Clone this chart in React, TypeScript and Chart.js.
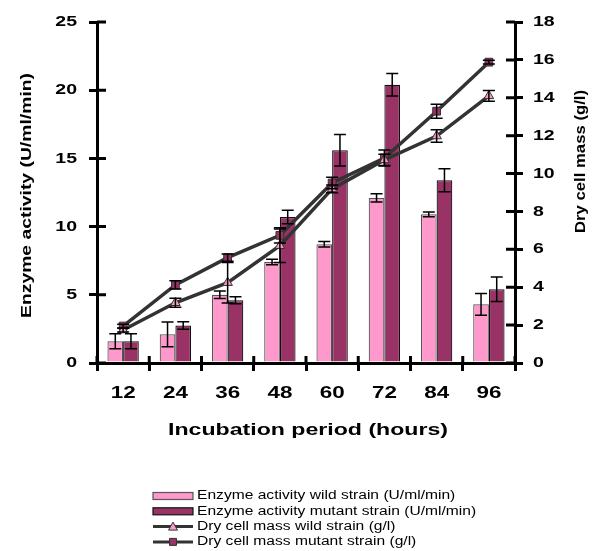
import React, { useEffect, useRef } from "react";
import { Chart, registerables } from "chart.js";
Chart.register(...registerables);

const categories = ["12", "24", "36", "48", "60", "72", "84", "96"];
const enzymeWild = [1.6, 2.1, 5.0, 7.4, 8.7, 12.1, 10.9, 4.3];
const enzymeWildErr = [0.55, 0.9, 0.28, 0.2, 0.2, 0.3, 0.17, 0.8];
const enzymeMutant = [1.6, 2.75, 4.6, 10.7, 15.6, 20.4, 13.4, 5.4];
const enzymeMutantErr = [0.55, 0.27, 0.25, 0.5, 1.15, 0.83, 0.85, 0.9];
const dcmWild = [1.74, 3.18, 4.24, 6.19, 9.19, 10.72, 11.98, 14.1];
const dcmWildErr = [0.1, 0.24, 1.07, 0.88, 0.2, 0.3, 0.33, 0.28];
const dcmMutant = [1.95, 4.12, 5.56, 6.74, 9.5, 10.82, 13.29, 15.88];
const dcmMutantErr = [0.1, 0.22, 0.19, 0.4, 0.3, 0.42, 0.37, 0.1];

const leftTicks = [0, 5, 10, 15, 20, 25];
const rightTicks = [0, 2, 4, 6, 8, 10, 12, 14, 16, 18];

const xTitle = "Incubation period (hours)";
const leftTitle = "Enzyme activity (U/ml/min)";
const rightTitle = "Dry cell mass (g/l)";
const seriesLabels = [
  "Enzyme activity wild strain (U/ml/min)",
  "Enzyme activity mutant strain (U/ml/min)",
  "Dry cell mass wild strain (g/l)",
  "Dry cell mass mutant strain (g/l)",
];

const FONT = '"Liberation Sans", Arial, sans-serif';
const PINK = "#FF99CC";
const PLUM = "#993366";
const LINE = "#333333";

function drawScaledText(ctx: CanvasRenderingContext2D, text: string, x: number, y: number, sx: number, sy: number, align: CanvasTextAlign, rot = 0) {
  ctx.save();
  ctx.translate(x, y);
  if (rot) ctx.rotate(rot);
  ctx.scale(sx, sy);
  ctx.textAlign = align;
  ctx.textBaseline = "middle";
  ctx.fillText(text, 0, 0);
  ctx.restore();
}

function drawFitText(ctx: CanvasRenderingContext2D, text: string, cx: number, cy: number, len: number, sThick: number, rot = 0) {
  const w = ctx.measureText(text).width;
  drawScaledText(ctx, text, cx, cy, len / w, sThick, "center", rot);
}

function App() {
  const ref = useRef<HTMLCanvasElement>(null);
  useEffect(() => {
    document.body.style.margin = "0";
    const canvas = ref.current!;
    const errs = [enzymeWildErr, enzymeMutantErr, dcmWildErr, dcmMutantErr];

    const decor = {
      id: "decor",
      afterDatasetsDraw(chart: any) {
        const ctx: CanvasRenderingContext2D = chart.ctx;
        ctx.save();
        ctx.strokeStyle = "#000";
        ctx.lineWidth = 1.5;
        chart.data.datasets.forEach((ds: any, i: number) => {
          const meta = chart.getDatasetMeta(i);
          const sc = chart.scales[ds.yAxisID];
          meta.data.forEach((el: any, j: number) => {
            const v = ds.data[j];
            const e = errs[i][j];
            const x = el.x;
            const y1 = sc.getPixelForValue(v + e);
            const y2 = sc.getPixelForValue(v - e);
            const c = 6;
            ctx.beginPath();
            ctx.moveTo(x, y1);
            ctx.lineTo(x, y2);
            ctx.moveTo(x - c, y1);
            ctx.lineTo(x + c, y1);
            ctx.moveTo(x - c, y2);
            ctx.lineTo(x + c, y2);
            ctx.stroke();
          });
        });
        ctx.restore();
      },
      afterDraw(chart: any) {
        const ctx: CanvasRenderingContext2D = chart.ctx;
        const { x, y, y1 } = chart.scales;
        const area = chart.chartArea;
        ctx.save();
        ctx.strokeStyle = "#000";
        ctx.lineWidth = 3;
        ctx.beginPath();
        y.ticks.forEach((t: any) => {
          const py = y.getPixelForValue(t.value);
          ctx.moveTo(area.left, py);
          ctx.lineTo(area.left + 9, py);
        });
        y1.ticks.forEach((t: any) => {
          const py = y1.getPixelForValue(t.value);
          ctx.moveTo(area.right - 9, py);
          ctx.lineTo(area.right, py);
        });
        const n = categories.length;
        const cw = (x.right - x.left) / n;
        for (let i = 0; i <= n; i++) {
          const px = x.left + i * cw;
          ctx.moveTo(px, area.bottom);
          ctx.lineTo(px, area.bottom - 7);
        }
        ctx.stroke();

        ctx.fillStyle = "#000";
        ctx.font = `bold 15px ${FONT}`;
        y.ticks.forEach((t: any) => {
          drawScaledText(ctx, String(t.value), 77, y.getPixelForValue(t.value), 1.3, 1, "right");
        });
        y1.ticks.forEach((t: any) => {
          drawScaledText(ctx, String(t.value), 533, y1.getPixelForValue(t.value), 1.3, 1, "left");
        });
        ctx.font = `bold 16px ${FONT}`;
        categories.forEach((c, i) => {
          drawScaledText(ctx, c, x.getPixelForValue(i), 394, 1.4, 1, "center");
        });

        ctx.font = `bold 17px ${FONT}`;
        drawFitText(ctx, xTitle, 308, 430, 280, 1);
        ctx.font = `bold 16px ${FONT}`;
        drawFitText(ctx, leftTitle, 26.5, 195.5, 245, 0.95, -Math.PI / 2);
        drawFitText(ctx, rightTitle, 581, 161.5, 143, 0.92, -Math.PI / 2);

        const lx0 = 153, lx1 = 193, tx = 197;
        const rows = [496, 511.3, 526.6, 541.9];
        ctx.font = `12px ${FONT}`;
        chart.data.datasets.forEach((ds: any, i: number) => {
          const cy = rows[i];
          if (ds.type === "bar") {
            ctx.fillStyle = ds.backgroundColor;
            ctx.fillRect(lx0, cy - 3.5, lx1 - lx0, 7);
            ctx.strokeStyle = ds.borderColor;
            ctx.lineWidth = 1.2;
            ctx.strokeRect(lx0, cy - 3.5, lx1 - lx0, 7);
          } else {
            ctx.strokeStyle = ds.borderColor;
            ctx.lineWidth = 3;
            ctx.beginPath();
            ctx.moveTo(lx0, cy);
            ctx.lineTo(lx1, cy);
            ctx.stroke();
            ctx.fillStyle = ds.pointBackgroundColor;
            ctx.strokeStyle = LINE;
            ctx.lineWidth = 1;
            const mx = (lx0 + lx1) / 2;
            ctx.beginPath();
            if (ds.pointStyle === "triangle") {
              ctx.moveTo(mx, cy - 4.5);
              ctx.lineTo(mx + 4.5, cy + 3.5);
              ctx.lineTo(mx - 4.5, cy + 3.5);
              ctx.closePath();
            } else {
              ctx.rect(mx - 3.5, cy - 3.5, 7, 7);
            }
            ctx.fill();
            ctx.stroke();
          }
          ctx.fillStyle = "#000";
          drawScaledText(ctx, ds.label, tx, cy, 1.3, 1, "left");
        });
        ctx.restore();
      },
    };

    const axisGrid = {
      display: true,
      drawOnChartArea: false,
      drawTicks: true,
      tickLength: 8,
      lineWidth: 3,
      color: "#000",
    };

    const chart = new Chart(canvas, {
      type: "bar",
      data: {
        labels: categories,
        datasets: [
          {
            type: "bar",
            label: seriesLabels[0],
            data: enzymeWild,
            backgroundColor: PINK,
            borderColor: "#555555",
            borderWidth: 1.2,
            yAxisID: "y",
            order: 2,
            categoryPercentage: 0.6,
            barPercentage: 1,
          },
          {
            type: "bar",
            label: seriesLabels[1],
            data: enzymeMutant,
            backgroundColor: PLUM,
            borderColor: "#111111",
            borderWidth: 1.2,
            yAxisID: "y",
            order: 2,
            categoryPercentage: 0.6,
            barPercentage: 1,
          },
          {
            type: "line",
            label: seriesLabels[2],
            data: dcmWild,
            borderColor: LINE,
            borderWidth: 3.5,
            pointStyle: "triangle",
            pointRadius: 5.5,
            pointBackgroundColor: PINK,
            pointBorderColor: LINE,
            pointBorderWidth: 1,
            yAxisID: "y1",
            order: 0,
            tension: 0,
          },
          {
            type: "line",
            label: seriesLabels[3],
            data: dcmMutant,
            borderColor: LINE,
            borderWidth: 3.5,
            pointStyle: "rect",
            pointRadius: 5.5,
            pointBackgroundColor: PLUM,
            pointBorderColor: LINE,
            pointBorderWidth: 1,
            yAxisID: "y1",
            order: 0,
            tension: 0,
          },
        ] as any,
      },
      options: {
        responsive: false,
        animation: false,
        layout: { padding: { left: 89, right: 72, top: 22, bottom: 180 } },
        plugins: { legend: { display: false }, tooltip: { enabled: false } },
        scales: {
          x: {
            offset: true,
            grid: { ...axisGrid, offset: true },
            border: { display: true, width: 3, color: "#000" },
            ticks: { display: false },
            afterFit: (s: any) => { s.height = 8; },
          },
          y: {
            position: "left",
            min: 0,
            max: 25,
            afterBuildTicks: (s: any) => { s.ticks = leftTicks.map((v) => ({ value: v })); },
            grid: axisGrid,
            border: { display: true, width: 3, color: "#000" },
            ticks: { display: false },
            afterFit: (s: any) => { s.width = 8; },
          },
          y1: {
            position: "right",
            min: 0,
            max: 18,
            afterBuildTicks: (s: any) => { s.ticks = rightTicks.map((v) => ({ value: v })); },
            grid: axisGrid,
            border: { display: true, width: 3, color: "#000" },
            ticks: { display: false },
            afterFit: (s: any) => { s.width = 8; },
          },
        } as any,
      },
      plugins: [decor],
    });
    return () => chart.destroy();
  }, []);
  return <canvas ref={ref} width={595} height={551} style={{ display: "block" }} />;
}

export default App;
